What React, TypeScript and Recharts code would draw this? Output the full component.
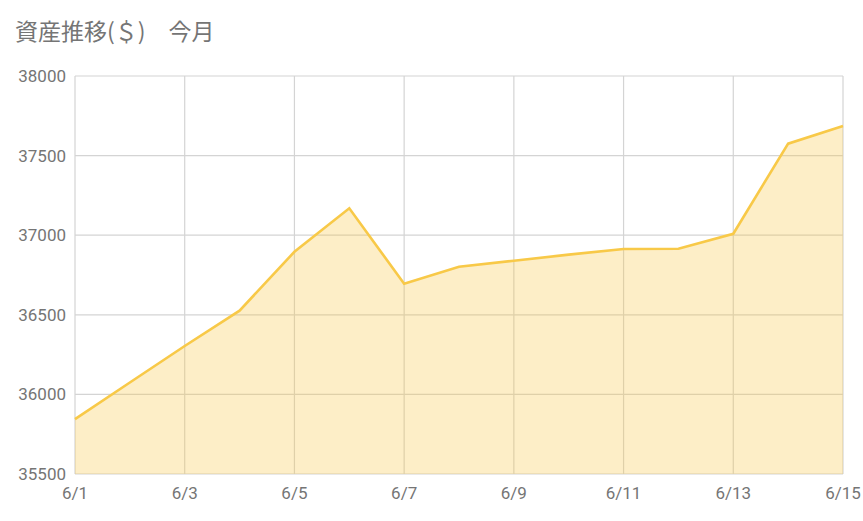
import React from "react";
import { AreaChart, Area, XAxis, YAxis, CartesianGrid } from "recharts";

const dates = ["6/1", "6/2", "6/3", "6/4", "6/5", "6/6", "6/7", "6/8", "6/9", "6/10", "6/11", "6/12", "6/13", "6/14", "6/15"];
const assets = [35845, 36075, 36304, 36526, 36896, 37169, 36695, 36802, 36840, 36878, 36913, 36915, 37009, 37575, 37686];
const yTicks = [35500, 36000, 36500, 37000, 37500, 38000];

const data = dates.map((d, i) => ({ date: d, value: assets[i] }));

const textColor = "#757575";
const font = "Roboto, 'Noto Sans CJK JP', sans-serif";

export default function App() {
  return (
    <div style={{ position: "absolute", left: 0, top: 0, width: 863, height: 521, background: "#fff", fontFamily: font }}>
      <div
        style={{
          position: "absolute",
          left: 15,
          top: 17,
          fontSize: 23,
          lineHeight: "26px",
          color: textColor,
          fontFamily: "'Noto Sans CJK JP', Roboto, sans-serif",
          whiteSpace: "pre",
        }}
      >
        資産推移(＄)　今月
      </div>
      <AreaChart width={863} height={521} data={data} margin={{ top: 76, right: 20, bottom: 17, left: 0 }}>
        <CartesianGrid stroke="#d4d4d4" strokeWidth={1.2} />
        <XAxis
          dataKey="date"
          interval={1}
          axisLine={false}
          tickLine={false}
          tickSize={0}
          tickMargin={13}
          height={30}
          tick={{ fill: textColor, fontSize: 17, fontFamily: font }}
        />
        <YAxis
          domain={[35500, 38000]}
          ticks={yTicks}
          axisLine={false}
          tickLine={false}
          tickSize={0}
          tickMargin={9}
          width={75}
          tick={{ fill: textColor, fontSize: 17, fontFamily: font }}
        />
        <Area
          type="linear"
          dataKey="value"
          stroke="#f8c948"
          strokeWidth={2.6}
          fill="#f9c846"
          fillOpacity={0.3}
          isAnimationActive={false}
          dot={false}
          activeDot={false}
        />
      </AreaChart>
    </div>
  );
}
